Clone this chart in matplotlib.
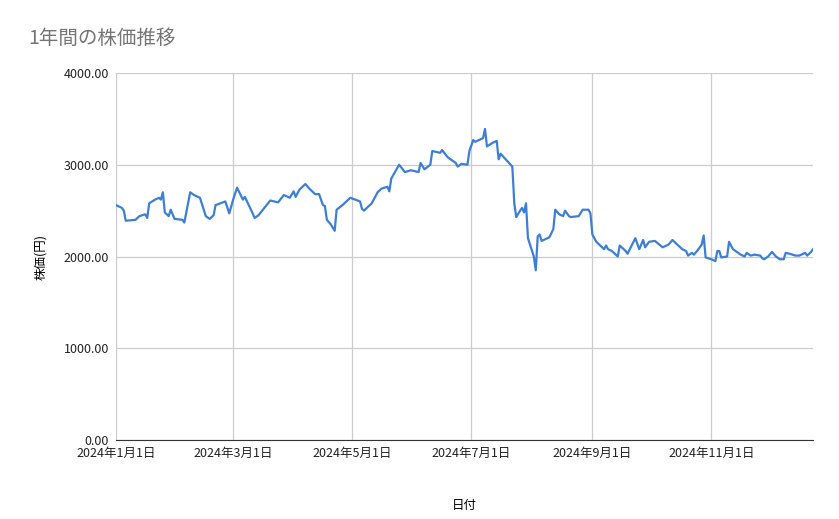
import matplotlib
matplotlib.use("Agg")
import matplotlib.pyplot as plt
import matplotlib.dates as mdates
import pandas as pd

plt.rcParams['font.family'] = ['Noto Sans CJK JP', 'DejaVu Sans']

days = [0,3,4,5,10,12,15,16,17,20,22,23,24,25,27,28,30,34,35,38,40,43,46,48,50,51,56,58,60,62,65,66,70,71,73,76,79,83,86,89,91,92,94,97,99,102,104,106,107,108,110,112,113,116,120,125,126,127,131,133,134,136,139,140,141,145,148,151,155,156,158,161,162,166,167,170,174,175,177,180,181,183,184,186,188,189,190,193,195,196,197,200,203,204,205,207,208,209,210,211,214,215,216,217,218,222,224,225,227,229,230,232,233,237,239,242,243,244,246,248,250,251,252,254,257,258,261,262,266,268,270,271,273,276,280,283,285,288,290,292,293,295,296,298,300,301,302,305,307,308,309,310,313,314,316,318,320,322,323,325,327,330,331,332,334,336,338,340,342,343,345,348,350,352,353,354,356,357]
prices = [2560,2530,2500,2390,2400,2440,2460,2420,2580,2620,2640,2620,2700,2480,2440,2510,2410,2400,2370,2700,2670,2640,2440,2410,2450,2560,2600,2470,2620,2750,2620,2650,2470,2420,2450,2530,2610,2590,2670,2640,2710,2650,2730,2790,2740,2680,2680,2560,2550,2400,2350,2280,2510,2560,2640,2600,2520,2500,2580,2660,2700,2740,2760,2710,2850,3000,2920,2940,2920,3020,2950,3000,3150,3130,3160,3080,3020,2980,3010,3000,3150,3270,3250,3270,3290,3390,3200,3240,3260,3060,3120,3050,2980,2580,2430,2500,2530,2480,2580,2200,2000,1850,2220,2240,2170,2210,2300,2510,2460,2440,2500,2440,2430,2440,2510,2510,2470,2240,2160,2120,2080,2120,2080,2060,2000,2120,2060,2030,2200,2080,2180,2100,2160,2170,2100,2130,2180,2120,2080,2060,2010,2040,2020,2070,2130,2230,1990,1970,1950,2060,2060,1990,2000,2160,2080,2050,2020,2000,2040,2010,2020,2010,1980,1970,2000,2050,2000,1970,1970,2040,2030,2010,2010,2030,2040,2010,2050,2080]
tick_dates = ["2024-01-01","2024-03-01","2024-05-01","2024-07-01","2024-09-01","2024-11-01"]
tick_labels = ["2024年1月1日","2024年3月1日","2024年5月1日","2024年7月1日","2024年9月1日","2024年11月1日"]

dates = pd.Timestamp("2024-01-01") + pd.to_timedelta(days, unit="D")

fig = plt.figure(figsize=(8.39, 5.19), dpi=100)
ax = fig.add_axes([116/839, 1-440/519, (813-116)/839, (440-73)/519])
ax.plot(dates, prices, color="#3d7fd6", lw=1.6)
ax.set_ylim(0, 4000)
ax.set_xlim(pd.Timestamp("2024-01-01"), dates[-1])
ax.set_yticks([0, 1000, 2000, 3000, 4000])
ax.set_yticklabels([f"{v:.2f}" for v in [0, 1000, 2000, 3000, 4000]])
ax.set_xticks(pd.to_datetime(tick_dates))
ax.set_xticklabels(tick_labels)
ax.grid(True, color="#cccccc", lw=0.9)
ax.set_axisbelow(True)
for s in ["top", "right", "left"]:
    ax.spines[s].set_visible(False)
ax.spines["bottom"].set_color("#333333")
ax.tick_params(length=0, labelsize=9, colors="#222222", pad=5)
ax.set_xlabel("日付", fontsize=9, labelpad=28)
ax.set_ylabel("株価(円)", fontsize=9, labelpad=12)
fig.text(28/839, 1-38/519, "1年間の株価推移", fontsize=14, color="#757575", va="center")
fig.savefig("out.png", dpi=100)
